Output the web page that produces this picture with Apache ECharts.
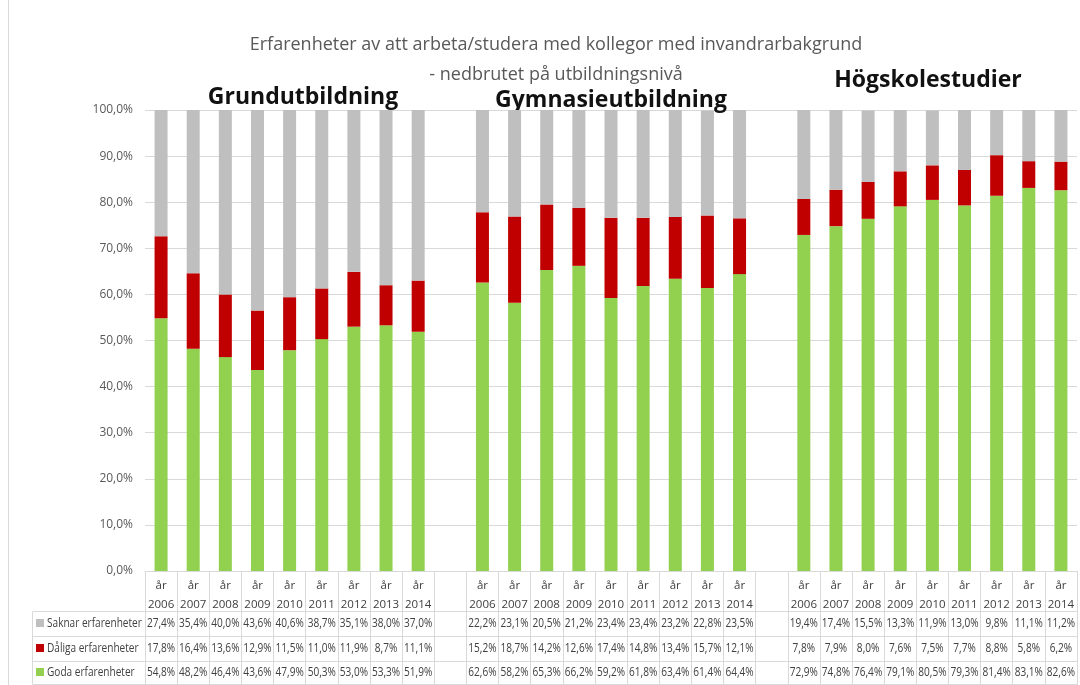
<!DOCTYPE html>
<html>
<head>
<meta charset="utf-8">
<script src="https://cdn.jsdelivr.net/npm/echarts@6/dist/echarts.min.js"></script>
<style>
  html, body { margin: 0; padding: 0; background: #fff; }
  #chart { width: 1080px; height: 685px; }
</style>
</head>
<body>
<div id="chart"></div>
<script>
const years = ["2006", "2007", "2008", "2009", "2010", "2011", "2012", "2013", "2014"]
const groupNames = ["Grundutbildning", "Gymnasieutbildning", "Högskolestudier"]
const seriesNames = ["Saknar erfarenheter", "Dåliga erfarenheter", "Goda erfarenheter"]

const grundSaknar = [27.4, 35.4, 40.0, 43.6, 40.6, 38.7, 35.1, 38.0, 37.0]
const grundDaliga = [17.8, 16.4, 13.6, 12.9, 11.5, 11.0, 11.9, 8.7, 11.1]
const grundGoda = [54.8, 48.2, 46.4, 43.6, 47.9, 50.3, 53.0, 53.3, 51.9]

const gymnSaknar = [22.2, 23.1, 20.5, 21.2, 23.4, 23.4, 23.2, 22.8, 23.5]
const gymnDaliga = [15.2, 18.7, 14.2, 12.6, 17.4, 14.8, 13.4, 15.7, 12.1]
const gymnGoda = [62.6, 58.2, 65.3, 66.2, 59.2, 61.8, 63.4, 61.4, 64.4]

const hogSaknar = [19.4, 17.4, 15.5, 13.3, 11.9, 13.0, 9.8, 11.1, 11.2]
const hogDaliga = [7.8, 7.9, 8.0, 7.6, 7.5, 7.7, 8.8, 5.8, 6.2]
const hogGoda = [72.9, 74.8, 76.4, 79.1, 80.5, 79.3, 81.4, 83.1, 82.6]

const colors = { saknar: "#bfbfbf", daliga: "#c00000", goda: "#92d050" }
const font = '"Open Sans", sans-serif'

// three groups with an empty column between them
const join = (a, b, c, gap) => a.concat([gap], b, [gap], c)
const categories = join(years, years, years, "")
const saknar = join(grundSaknar, gymnSaknar, hogSaknar, "-")
const daliga = join(grundDaliga, gymnDaliga, hogDaliga, "-")
const goda = join(grundGoda, gymnGoda, hogGoda, "-")

const pct = (v) => (v === "-" ? "" : v.toFixed(1).replace(".", ",") + "%")

const chart = echarts.init(document.getElementById("chart"))

chart.setOption({
	animation: false,
	title: {
		text: "Erfarenheter av att arbeta/studera med kollegor med invandrarbakgrund",
		subtext: "- nedbrutet på utbildningsnivå",
		left: 551,
		textAlign: "center",
		top: 31,
		itemGap: 12,
		textStyle: { fontSize: 18, fontWeight: "normal", color: "#595959", fontFamily: font },
		subtextStyle: { fontSize: 18, color: "#595959", fontFamily: font },
	},
	grid: { left: 145, right: 3, top: 110, bottom: 114, containLabel: false },
	xAxis: {
		type: "category",
		data: categories,
		axisLine: { lineStyle: { color: "#d9d9d9" } },
		axisTick: { show: true, interval: 0, length: 113, lineStyle: { color: "#d9d9d9" } },
		axisLabel: {
			interval: 0,
			margin: 5,
			fontSize: 11.5,
			lineHeight: 19,
			color: "#404040",
			fontFamily: font,
			formatter: (v) => (v ? "år\n" + v : ""),
		},
	},
	yAxis: {
		type: "value",
		min: 0,
		max: 100,
		interval: 10,
		axisLine: { show: false },
		axisTick: { show: false },
		splitLine: { lineStyle: { color: "#d9d9d9" } },
		axisLabel: {
			margin: 12,
			fontSize: 12,
			color: "#595959",
			fontFamily: font,
			formatter: (v) => v.toFixed(1).replace(".", ",") + "%",
		},
	},
	series: [
		{ name: seriesNames[2], type: "bar", stack: "all", barWidth: 13, data: goda, itemStyle: { color: colors.goda } },
		{ name: seriesNames[1], type: "bar", stack: "all", barWidth: 13, data: daliga, itemStyle: { color: colors.daliga } },
		{ name: seriesNames[0], type: "bar", stack: "all", barWidth: 13, data: saknar, itemStyle: { color: colors.saknar } },
	],
})

// data table under the axis, cells placed on the category scale
const tableLine = (x1, y1, x2, y2) => ({
	type: "line",
	shape: { x1: x1, y1: y1, x2: x2, y2: y2 },
	style: { stroke: "#d9d9d9", lineWidth: 1 },
	silent: true,
})

const cellText = (text, x, y, align) => ({
	type: "text",
	x: x,
	y: y,
	scaleX: 0.84,
	style: {
		text: text,
		fill: "#404040",
		font: "12px " + font,
		textAlign: align || "center",
		textVerticalAlign: "middle",
	},
})

const groupTitle = (text, x, y) => ({
	type: "text",
	x: x,
	y: y,
	style: {
		text: text,
		fill: "#111",
		font: "bold 23px " + font,
		textAlign: "center",
		textVerticalAlign: "middle",
		shadowColor: "rgba(0,0,0,0.35)",
		shadowOffsetX: 1,
		shadowOffsetY: 1,
		shadowBlur: 2,
	},
})

const rows = [saknar, daliga, goda]
const rowColors = [colors.saknar, colors.daliga, colors.goda]
const rowY = [624, 649, 673]

const graphic = [
	tableLine(8.5, 0, 8.5, 685),
	tableLine(33, 611.5, 1078, 611.5),
	tableLine(33, 636.5, 1078, 636.5),
	tableLine(33, 661.5, 1078, 661.5),
	tableLine(33, 684.5, 1078, 684.5),
	tableLine(32.5, 611.5, 32.5, 684.5),
	groupTitle(groupNames[0], 303, 97),
	groupTitle(groupNames[1], 611, 100),
	groupTitle(groupNames[2], 928, 80),
]

rows.forEach((row, k) => {
	graphic.push({ type: "rect", shape: { x: 36, y: rowY[k] - 5, width: 8, height: 8 }, style: { fill: rowColors[k] } })
	graphic.push(cellText(seriesNames[k], 47, rowY[k], "left"))
	row.forEach((v, i) => {
		if (v === "-") return
		const x = chart.convertToPixel({ xAxisIndex: 0 }, i)
		graphic.push(cellText(pct(v), x, rowY[k]))
	})
})

chart.setOption({ graphic: graphic })
</script>
</body>
</html>
